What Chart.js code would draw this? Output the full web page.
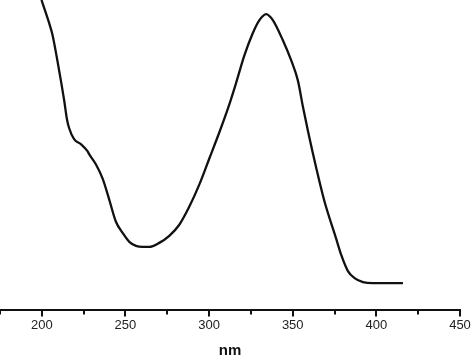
<!DOCTYPE html>
<html>
<head>
<meta charset="utf-8">
<script src="https://cdn.jsdelivr.net/npm/chart.js@4"></script>
<style>
  html, body { margin: 0; padding: 0; background: #fff; }
</style>
</head>
<body>
<canvas id="spectrum" width="474" height="356"></canvas>
<script>
// wavelength (nm) and absorbance
const wavelengths = [199.8, 204.4, 206.3, 209.3, 211.4, 213.4, 215.0, 216.3, 219.3, 223.4,
  227.3, 228.3, 232.3, 236.3, 240.3, 244.3, 248.3, 252.3, 256.3, 260.3, 264.3, 270.2,
  276.2, 282.2, 288.2, 294.2, 300.2, 306.2, 312.2, 316.2, 321.1,
  326.1, 330.1, 334.1, 338.1, 344.1, 349.1, 353.1, 356.1, 359.1, 364.1, 369.0, 376.0,
  379.0, 383.0, 387.0, 392.0, 398.0, 405.0, 415.9];
const absorbance = [3.08, 2.85, 2.74, 2.48, 2.28, 2.08, 1.90, 1.81, 1.70, 1.65,
  1.58, 1.55, 1.45, 1.31, 1.10, 0.88, 0.77, 0.68, 0.64, 0.63, 0.63, 0.67,
  0.74, 0.85, 1.03, 1.25, 1.51, 1.77, 2.05, 2.26, 2.53,
  2.75, 2.88, 2.94, 2.88, 2.68, 2.48, 2.28, 2.02, 1.78, 1.41, 1.08, 0.71,
  0.55, 0.39, 0.32, 0.28, 0.27, 0.27, 0.27];
const majorTicks = [200, 250, 300, 350, 400, 450];
const minorTicks = [175, 225, 275, 325, 375, 425];

// draws major/minor tick marks below the x axis line
const tickMarks = {
  id: 'tickMarks',
  afterDraw(chart) {
    const ctx = chart.ctx;
    const x = chart.scales.x;
    const y0 = x.top;
    ctx.save();
    ctx.strokeStyle = '#111';
    ctx.lineWidth = 2;
    majorTicks.forEach(v => {
      const px = Math.round(x.getPixelForValue(v));
      ctx.beginPath();
      ctx.moveTo(px, y0);
      ctx.lineTo(px, y0 + 6);
      ctx.stroke();
    });
    minorTicks.forEach(v => {
      const px = Math.round(x.getPixelForValue(v));
      ctx.beginPath();
      ctx.moveTo(px, y0);
      ctx.lineTo(px, y0 + 4);
      ctx.stroke();
    });
    ctx.restore();
  }
};

const ctx = document.getElementById('spectrum').getContext('2d');
new Chart(ctx, {
  type: 'line',
  data: {
    datasets: [{
      data: wavelengths.map((w, i) => ({ x: w, y: absorbance[i] })),
      borderColor: '#111',
      borderWidth: 2.3,
      pointRadius: 0,
      cubicInterpolationMode: 'monotone',
      fill: false,
    }]
  },
  options: {
    responsive: false,
    animation: false,
    layout: { padding: { left: 0, right: 14, top: 0, bottom: 0 } },
    plugins: {
      legend: { display: false },
      tooltip: { enabled: false },
    },
    scales: {
      x: {
        type: 'linear',
        min: 175,
        max: 450,
        afterBuildTicks: (axis) => {
          axis.ticks = majorTicks.map(v => ({ value: v }));
        },
        grid: {
          display: true,
          drawOnChartArea: false,
          drawTicks: true,
          tickLength: 4,
          tickColor: 'rgba(0,0,0,0)',
        },
        border: { display: true, color: '#111', width: 2 },
        ticks: {
          color: '#222',
          padding: 3,
          maxRotation: 0,
          autoSkip: false,
          font: { family: 'Liberation Sans', size: 13 },
        },
        title: {
          display: true,
          text: 'nm',
          color: '#111',
          padding: { top: 6, bottom: -4 },
          font: { family: 'Liberation Sans', size: 15, weight: 'bold' },
        },
      },
      y: {
        display: false,
        min: 0,
        max: 3.08,
      }
    }
  },
  plugins: [tickMarks]
});
</script>
</body>
</html>
